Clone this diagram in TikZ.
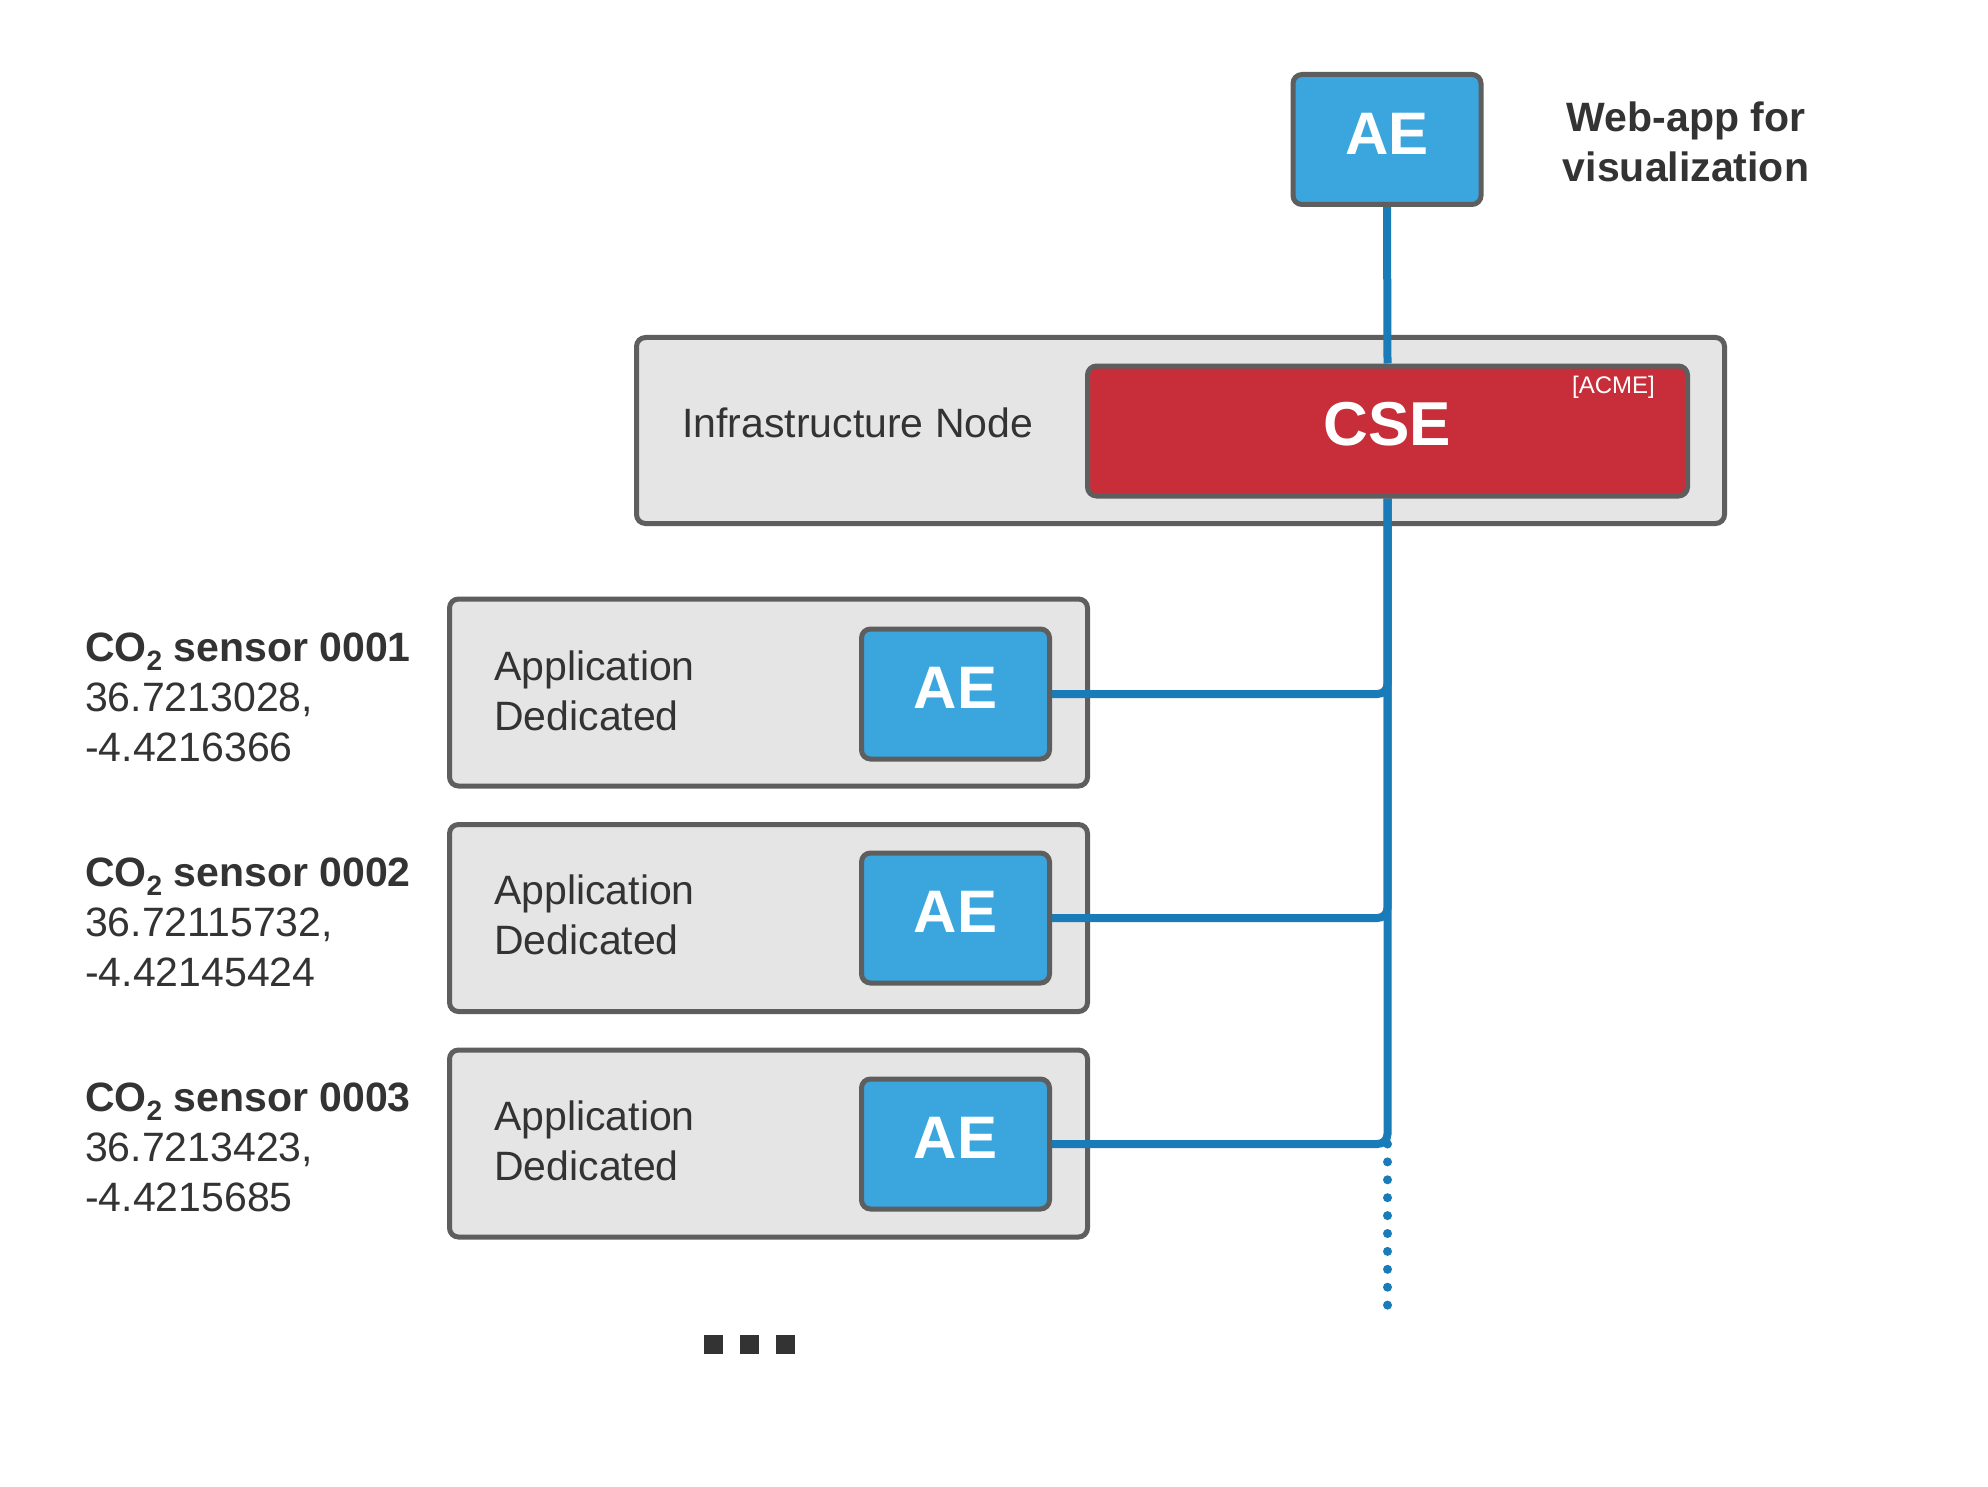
\documentclass[tikz,border=0pt]{standalone}
\usepackage{fontspec}
\setmainfont{Liberation Sans}
\pgfdeclarelayer{bg}
\pgfdeclarelayer{mid}
\pgfsetlayers{bg,mid,main}
\definecolor{aeblue}{HTML}{3AA6DD}
\definecolor{lineblue}{HTML}{1A7BB9}
\definecolor{bordergray}{HTML}{5E5E5E}
\definecolor{boxgray}{HTML}{E5E5E5}
\definecolor{cred}{HTML}{C82E3A}
\definecolor{txt}{HTML}{333333}
\tikzset{
  outerbox/.style={draw=bordergray, line width=5pt, rounded corners=9pt, fill=boxgray},
  aebox/.style={draw=bordergray, line width=5pt, rounded corners=9pt, fill=aeblue,
    minimum width=188pt, minimum height=130pt, inner sep=0pt, text=white,
    text depth=12pt, font=\fontsize{60}{72}\selectfont\bfseries},
  csebox/.style={draw=bordergray, line width=5pt, rounded corners=9pt, fill=cred,
    minimum width=600pt, minimum height=130pt, inner sep=0pt, text=white,
    text depth=14pt, font=\fontsize{62}{74}\selectfont\bfseries},
  appbox/.style={outerbox, minimum width=638pt, minimum height=187pt, inner sep=0pt},
  lbl/.style={text=txt, inner sep=0pt, align=left, font=\fontsize{41}{50}\selectfont},
  conn/.style={draw=lineblue, line width=8pt, rounded corners=10pt},
  dotconn/.style={draw=lineblue, line width=9pt, line cap=round, dash pattern=on 0pt off 17.9pt},
}
\newcommand{\cotwo}{CO\raisebox{-0.22em}{\fontsize{28}{28}\selectfont 2}}
\begin{document}
\begin{tikzpicture}[x=1pt,y=-1pt]
\useasboundingbox (0,0) rectangle (1988,1487);
\begin{pgfonlayer}{bg}
\fill[white] (0,0) rectangle (1988,1487);
\end{pgfonlayer}
% inner boxes
\node[aebox] (top) at (1387,139.5) {AE};
\node[csebox] (cse) at (1387.5,431) {CSE};
\node[aebox] (ae1) at (955.5,694) {AE};
\node[aebox] (ae2) at (955.5,918) {AE};
\node[aebox] (ae3) at (955.5,1144) {AE};
\node[text=white, inner sep=0pt, anchor=east, font=\fontsize{24}{28}\selectfont] (acme) at (1655,387) {[ACME]};
% outer boxes
\begin{pgfonlayer}{bg}
\node[outerbox, minimum width=1088pt, minimum height=186pt, inner sep=0pt] (infra) at (1180.5,430.5) {};
\node[appbox] (app1) at (768.5,692.5) {};
\node[appbox] (app2) at (768.5,918) {};
\node[appbox] (app3) at (768.5,1143.5) {};
\end{pgfonlayer}
% labels
\node[lbl, anchor=west] (infralbl) at (682,423) {Infrastructure Node};
\node[lbl, anchor=west] (applbl1) at (494,691) {Application\\Dedicated};
\node[lbl, anchor=west] (applbl2) at (494,915) {Application\\Dedicated};
\node[lbl, anchor=west] (applbl3) at (494,1141) {Application\\Dedicated};
\node[lbl, anchor=west] (s1) at (85,697) {\textbf{\cotwo{} sensor 0001}\\36.7213028,\\-4.4216366};
\node[lbl, anchor=west] (s2) at (85,922) {\textbf{\cotwo{} sensor 0002}\\36.72115732,\\-4.42145424};
\node[lbl, anchor=west] (s3) at (85,1147) {\textbf{\cotwo{} sensor 0003}\\36.7213423,\\-4.4215685};
\node[lbl, align=center, font=\fontsize{41}{50}\selectfont\bfseries] (web) at (1686,142) {Web-app for\\visualization};
% connectors
\coordinate (dotend) at (1387.5,1310);
\begin{pgfonlayer}{mid}
\draw[conn] (top.south) -- (cse.north);
\draw[conn] (ae1.east) -| (cse.south);
\draw[conn] (ae2.east) -| (cse.south);
\draw[conn] (ae3.east) -| (cse.south);
\draw[dotconn] (ae3.east -| dotend) -- (dotend);
\end{pgfonlayer}
% ellipsis
\fill[txt] (704,1335) rectangle (723,1354);
\fill[txt] (740,1335) rectangle (759,1354);
\fill[txt] (776,1335) rectangle (795,1354);
\end{tikzpicture}
\end{document}
